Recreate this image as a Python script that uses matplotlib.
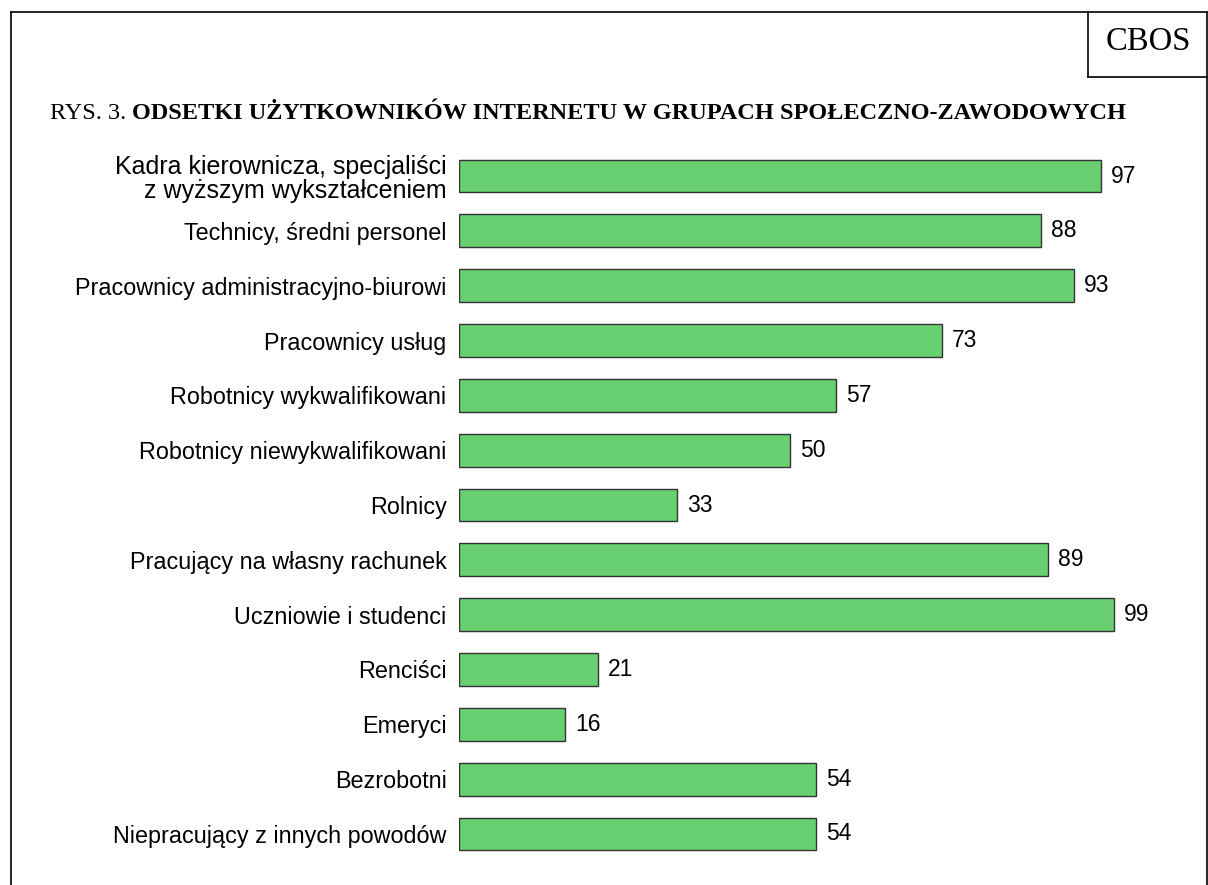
import matplotlib
matplotlib.use("Agg")
import matplotlib.pyplot as plt
from matplotlib.lines import Line2D

# dane
kategorie = [
    "Kadra kierownicza, specjaliści\nz wyższym wykształceniem",
    "Technicy, średni personel",
    "Pracownicy administracyjno-biurowi",
    "Pracownicy usług",
    "Robotnicy wykwalifikowani",
    "Robotnicy niewykwalifikowani",
    "Rolnicy",
    "Pracujący na własny rachunek",
    "Uczniowie i studenci",
    "Renciści",
    "Emeryci",
    "Bezrobotni",
    "Niepracujący z innych powodów",
]
wartosci = [97, 88, 93, 73, 57, 50, 33, 89, 99, 21, 16, 54, 54]

tytul_a = "RYS. 3. "
tytul_b = "ODSETKI UŻYTKOWNIKÓW INTERNETU W GRUPACH SPOŁECZNO-ZAWODOWYCH"

W, H = 1208, 885
fig = plt.figure(figsize=(W / 100, H / 100), dpi=100)

# os z wykresem
ax = fig.add_axes([459 / W, 1 - 861.4 / H, 727.6 / W, (861.4 - 148.6) / H])
y = list(range(len(kategorie)))
ax.barh(y, wartosci, height=0.6, color="#68D070", edgecolor="#333333", linewidth=1.0)
ax.set_xlim(0, 110)
ax.set_ylim(len(kategorie) - 0.5, -0.5)
ax.set_yticks(y)
ax.set_yticklabels(kategorie, fontname="Liberation Sans", fontsize=16.8, linespacing=1.0)
ax.tick_params(axis="y", length=0, pad=9)
# pierwsza etykieta (dwuwierszowa) jest w oryginale szersza
ax.get_yticklabels()[0].set_fontsize(18)
ax.set_xticks([])
for s in ax.spines.values():
    s.set_visible(False)
for yi, v in zip(y, wartosci):
    ax.text(v + 1.5, yi, str(v), va="center", ha="left",
            fontname="Liberation Sans", fontsize=16.5)

# ramka
lw = 1.2
top = 1 - 12 / H
lx = 11 / W
rx = 1206.5 / W
fig.add_artist(Line2D([lx, lx], [0, top], color="black", lw=lw))
fig.add_artist(Line2D([lx, rx], [top, top], color="black", lw=lw))
fig.add_artist(Line2D([rx, rx], [0, top], color="black", lw=lw))
# pole CBOS
fig.add_artist(Line2D([1088 / W, 1088 / W], [1 - 77 / H, top], color="black", lw=lw))
fig.add_artist(Line2D([1088 / W, rx], [1 - 77 / H, 1 - 77 / H], color="black", lw=lw))
fig.text(1148 / W, 1 - 42 / H, "CBOS", ha="center", va="center",
         fontname="Liberation Serif", fontsize=23.5)

# tytul: czesc zwykla + pogrubiona
t1 = fig.text(50 / W, 1 - 119 / H, tytul_a, ha="left", va="baseline",
              fontname="Liberation Serif", fontsize=17.5)
r = fig.canvas.get_renderer()
bb = t1.get_window_extent(renderer=r)
fig.text(bb.x1 / W, 1 - 119 / H, tytul_b, ha="left", va="baseline",
         fontname="Liberation Serif", fontsize=17.5, fontweight="bold")

fig.savefig("out.png", dpi=100)
